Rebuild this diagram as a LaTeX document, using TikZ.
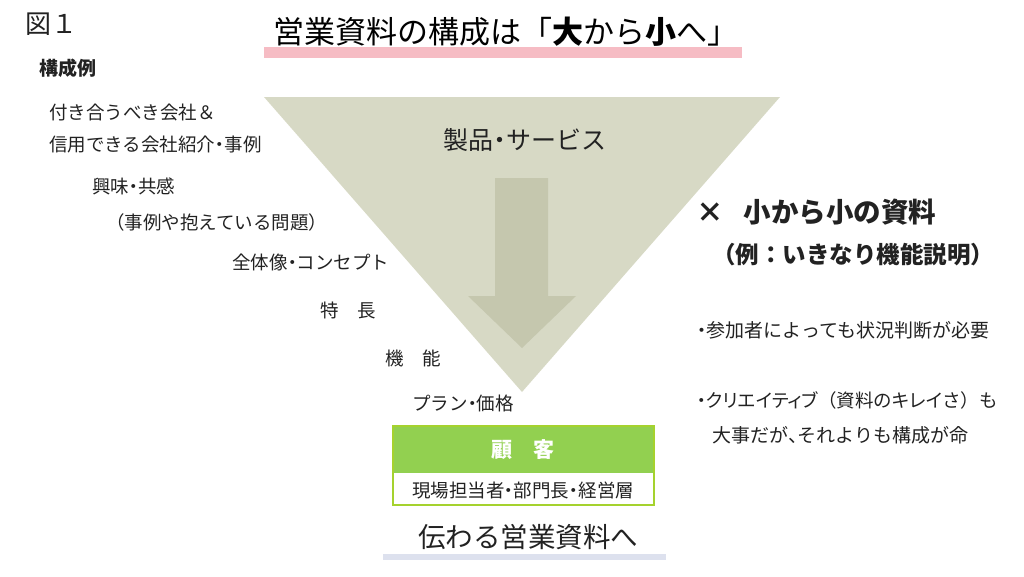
\documentclass[tikz,border=0pt]{standalone}
\usepackage{fontspec}
\setmainfont{Noto Sans CJK JP}
\definecolor{funnel}{HTML}{D7D9C5}
\definecolor{funnelarrow}{HTML}{C5C7AE}
\definecolor{titlepink}{HTML}{F6BCC4}
\definecolor{footblue}{HTML}{DDE1EE}
\definecolor{custgreen}{HTML}{92D050}
\definecolor{custedge}{HTML}{A5D22E}
\definecolor{textgray}{HTML}{222222}
\newcommand{\fsz}[1]{\fontsize{#1}{#1}\selectfont}
\newcommand{\pl}[1]{{\addfontfeature{RawFeature=+palt}#1}}
\newcommand{\dt}{\pl{・}}

\begin{document}
\begin{tikzpicture}[x=1pt,y=-1pt,
  lbl/.style={anchor=west, inner sep=0pt, text=textgray, font=\fsz{18.5}},
  bigtxt/.style={inner sep=0pt, text=textgray}]
\useasboundingbox (0,0) rectangle (1024,576);
% title
\fill[titlepink] (264,47) rectangle (742,58);
\node[bigtxt, anchor=west, font=\fsz{26}] (zu) at (25,24) {図１};
\node[bigtxt, anchor=west, font=\fsz{19}\bfseries] (rei) at (39,68) {構成例};
\node[bigtxt, font=\fsz{31}, text=black] (title) at (506,32) {営業資料の構成は「\textbf{大}から\textbf{小}へ」};
% funnel
\fill[funnel] (264,97) -- (780,97) -- (522,392) -- cycle;
\fill[funnelarrow] (495,178) -- (548,178) -- (548,296) -- (576,296) -- (522,348)
  -- (468,296) -- (495,296) -- cycle;
\node[bigtxt, font=\fsz{25}] (seihin) at (525,140) {製品\dt サービス};
% levels
\foreach \x/\y/\t/\n in {49/112/付き合うべき会社＆/lv1, 49/145/信用できる会社紹介\dt 事例/lv2,
  92/186/興味\dt 共感/lv3, 106/222/（事例や抱えている問題）/lv4, 232/262/全体像\dt コンセプト/lv5,
  320/310/特\quad 長/lv6, 385/358/機\quad 能/lv7, 412/403/プラン\dt 価格/lv8} {
  \node[lbl] (\n) at (\x,\y) {\t};
}
% customer
\fill[custgreen] (393,426) rectangle (654,473);
\draw[custedge, line width=1.5pt] (393,426) rectangle (654,505);
\node[bigtxt, text=white, font=\fsz{21}\bfseries] (kokyaku) at (523,450) {顧\quad 客};
\node[bigtxt, font=\fsz{18.5}] (sou) at (523,490) {現場担当者\dt 部門長\dt 経営層};
\fill[footblue] (383,554) rectangle (666,560);
\node[bigtxt, font=\fsz{27.5}] (tsutawaru) at (528,537) {伝わる営業資料へ};
% right side
\node[bigtxt, anchor=west, font=\fsz{27.5}\bfseries] (batsu) at (696,212) {×\hspace{20pt}小から小の資料};
\node[bigtxt, anchor=west, font=\fsz{23.5}\bfseries] (kino) at (712,255) {（例：いきなり機能説明）};
\node[lbl, font=\fsz{19}] (sanka) at (697,330) {\dt 参加者によっても状況判断が必要};
\node[lbl, font=\fsz{18.5}] (kirei) at (697,400) {\dt\pl{クリエイティブ}（資料の\pl{キレイ}さ）も};
\node[lbl, font=\fsz{19}] (inochi) at (712,435) {大事だが\pl{、}それよりも構成が命};
\end{tikzpicture}
\end{document}
